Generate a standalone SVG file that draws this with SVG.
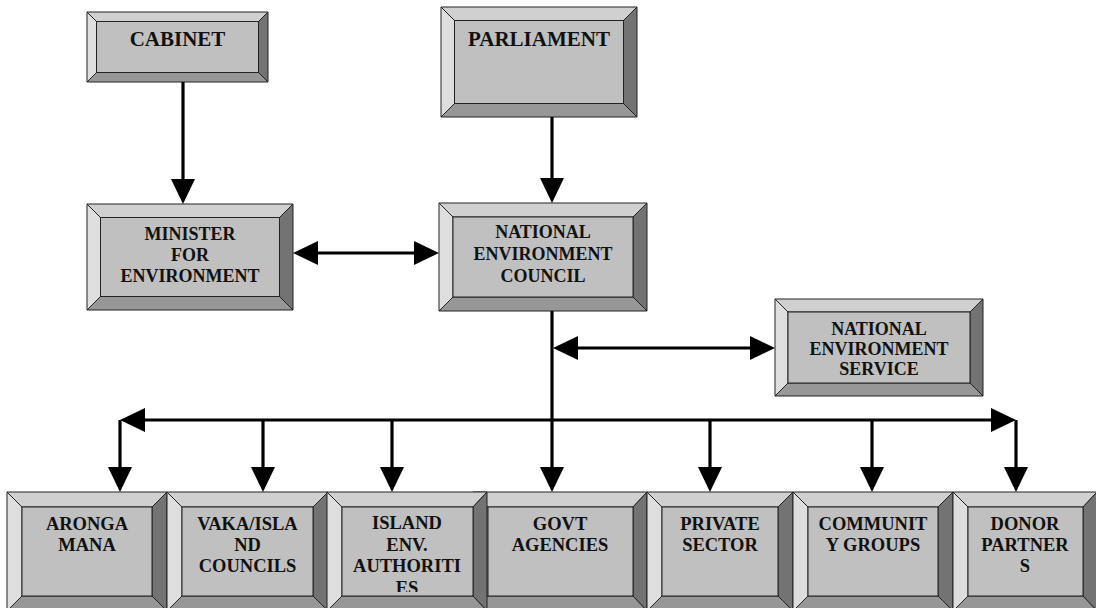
<svg xmlns="http://www.w3.org/2000/svg" width="1096" height="608" viewBox="0 0 1096 608">
<style>
.t{fill:#d0d0d0;stroke:#222;stroke-width:1}
.l{fill:#dedede;stroke:#222;stroke-width:1}
.r{fill:#737373;stroke:#222;stroke-width:1}
.b{fill:#979797;stroke:#222;stroke-width:1}
.f{fill:#c0c0c0;stroke:#222;stroke-width:1}
text{font-family:"Liberation Serif","Times New Roman",serif;font-weight:bold;fill:#111;text-anchor:middle}
.big{font-size:21px}
.mid{font-size:18px}
.sm{font-size:18.5px}
.c{fill:none;stroke:#000;stroke-width:3.2}
</style>
<defs>
<marker id="ah" viewBox="0 0 25 24" refX="4" refY="12" markerWidth="25" markerHeight="24" markerUnits="userSpaceOnUse" orient="auto-start-reverse">
<path d="M0,0 L25,12 L0,24 z" fill="#000"/>
</marker>
<clipPath id="clipIsland"><rect x="330" y="500" width="150" height="92"/></clipPath>
</defs>
<rect width="1096" height="608" fill="#fff"/>

<g id="cabinet">
<polygon class="t" points="87,12 268,12 258.5,21.5 96.5,21.5"/>
<polygon class="l" points="87,12 96.5,21.5 96.5,72.5 87,82"/>
<polygon class="r" points="268,12 268,82 258.5,72.5 258.5,21.5"/>
<polygon class="b" points="87,82 96.5,72.5 258.5,72.5 268,82"/>
<rect class="f" x="96.5" y="21.5" width="162" height="51"/>
<text class="big" x="177.5" y="46">CABINET</text>
</g>

<g id="parliament">
<polygon class="t" points="441,7 637,7 623.5,20.5 454.5,20.5"/>
<polygon class="l" points="441,7 454.5,20.5 454.5,103.5 441,117"/>
<polygon class="r" points="637,7 637,117 623.5,103.5 623.5,20.5"/>
<polygon class="b" points="441,117 454.5,103.5 623.5,103.5 637,117"/>
<rect class="f" x="454.5" y="20.5" width="169" height="83"/>
<text class="big" x="539" y="46">PARLIAMENT</text>
</g>

<g id="minister">
<polygon class="t" points="87,204 293,204 279.5,217.5 100.5,217.5"/>
<polygon class="l" points="87,204 100.5,217.5 100.5,296.5 87,310"/>
<polygon class="r" points="293,204 293,310 279.5,296.5 279.5,217.5"/>
<polygon class="b" points="87,310 100.5,296.5 279.5,296.5 293,310"/>
<rect class="f" x="100.5" y="217.5" width="179" height="79"/>
<text class="mid" x="190" y="240">MINISTER</text>
<text class="mid" x="190" y="261">FOR</text>
<text class="mid" x="190" y="282">ENVIRONMENT</text>
</g>

<g id="nec">
<polygon class="t" points="439,203 647,203 633,217 453,217"/>
<polygon class="l" points="439,203 453,217 453,297 439,311"/>
<polygon class="r" points="647,203 647,311 633,297 633,217"/>
<polygon class="b" points="439,311 453,297 633,297 647,311"/>
<rect class="f" x="453" y="217" width="180" height="80"/>
<text class="mid" x="543" y="238">NATIONAL</text>
<text class="mid" x="543" y="260">ENVIRONMENT</text>
<text class="mid" x="543" y="282">COUNCIL</text>
</g>

<g id="nes">
<polygon class="t" points="775,299 983,299 970,312 788,312"/>
<polygon class="l" points="775,299 788,312 788,383 775,396"/>
<polygon class="r" points="983,299 983,396 970,383 970,312"/>
<polygon class="b" points="775,396 788,383 970,383 983,396"/>
<rect class="f" x="788" y="312" width="182" height="71"/>
<text class="mid" x="879" y="335">NATIONAL</text>
<text class="mid" x="879" y="355">ENVIRONMENT</text>
<text class="mid" x="879" y="375">SERVICE</text>
</g>

<g id="aronga">
<polygon class="t" points="7,492 167,492 152,507 22,507"/>
<polygon class="l" points="7,492 22,507 22,596 7,611"/>
<polygon class="r" points="167,492 167,611 152,596 152,507"/>
<polygon class="b" points="7,611 22,596 152,596 167,611"/>
<rect class="f" x="22" y="507" width="130" height="89"/>
<text class="sm" x="87" y="530">ARONGA</text>
<text class="sm" x="87" y="551">MANA</text>
</g>

<g id="vaka">
<polygon class="t" points="167,492 328,492 313,507 182,507"/>
<polygon class="l" points="167,492 182,507 182,596 167,611"/>
<polygon class="r" points="328,492 328,611 313,596 313,507"/>
<polygon class="b" points="167,611 182,596 313,596 328,611"/>
<rect class="f" x="182" y="507" width="131" height="89"/>
<text class="sm" x="247.5" y="530">VAKA/ISLA</text>
<text class="sm" x="247.5" y="551">ND</text>
<text class="sm" x="247.5" y="572">COUNCILS</text>
</g>

<g id="govt">
<polygon class="t" points="473,492 647,492 633,507 488,507"/>
<polygon class="l" points="473,492 488,507 488,596 473,611"/>
<polygon class="r" points="647,492 647,611 633,596 633,507"/>
<polygon class="b" points="473,611 488,596 633,596 647,611"/>
<rect class="f" x="488" y="507" width="145" height="89"/>
<text class="sm" x="560" y="530">GOVT</text>
<text class="sm" x="560" y="551">AGENCIES</text>
</g>

<g id="island">
<polygon class="t" points="327,492 487,492 473,507 342,507"/>
<polygon class="l" points="327,492 342,507 342,596 327,611"/>
<polygon class="r" points="487,492 487,611 473,596 473,507"/>
<polygon class="b" points="327,611 342,596 473,596 487,611"/>
<rect class="f" x="342" y="507" width="131" height="89"/>
<g clip-path="url(#clipIsland)">
<text class="sm" x="407" y="529">ISLAND</text>
<text class="sm" x="407" y="551">ENV.</text>
<text class="sm" x="407" y="572">AUTHORITI</text>
<text class="sm" x="407" y="594">ES</text>
</g>
</g>

<g id="private">
<polygon class="t" points="647,492 793,492 778,507 662,507"/>
<polygon class="l" points="647,492 662,507 662,596 647,611"/>
<polygon class="r" points="793,492 793,611 778,596 778,507"/>
<polygon class="b" points="647,611 662,596 778,596 793,611"/>
<rect class="f" x="662" y="507" width="116" height="89"/>
<text class="sm" x="720" y="530">PRIVATE</text>
<text class="sm" x="720" y="551">SECTOR</text>
</g>

<g id="community">
<polygon class="t" points="793,492 953,492 938,507 808,507"/>
<polygon class="l" points="793,492 808,507 808,596 793,611"/>
<polygon class="r" points="953,492 953,611 938,596 938,507"/>
<polygon class="b" points="793,611 808,596 938,596 953,611"/>
<rect class="f" x="808" y="507" width="130" height="89"/>
<text class="sm" x="873" y="530">COMMUNIT</text>
<text class="sm" x="873" y="551">Y GROUPS</text>
</g>

<g id="donor">
<polygon class="t" points="953,492 1097,492 1083,507 968,507"/>
<polygon class="l" points="953,492 968,507 968,596 953,611"/>
<polygon class="r" points="1097,492 1097,611 1083,596 1083,507"/>
<polygon class="b" points="953,611 968,596 1083,596 1097,611"/>
<rect class="f" x="968" y="507" width="115" height="89"/>
<text class="sm" x="1025" y="530">DONOR</text>
<text class="sm" x="1025" y="551">PARTNER</text>
<text class="sm" x="1025" y="572">S</text>
</g>

<g id="connectors">
<path class="c" d="M183,82 V183" marker-end="url(#ah)"/>
<path class="c" d="M552,117 V182" marker-end="url(#ah)"/>
<path class="c" d="M314,253 H418" marker-start="url(#ah)" marker-end="url(#ah)"/>
<path class="c" d="M552,311 V471" marker-end="url(#ah)"/>
<path class="c" d="M574,348 H754" marker-start="url(#ah)" marker-end="url(#ah)"/>
<path class="c" d="M141,420 H995" marker-start="url(#ah)" marker-end="url(#ah)"/>
<path class="c" d="M120,420 V471" marker-end="url(#ah)"/>
<path class="c" d="M263,420 V471" marker-end="url(#ah)"/>
<path class="c" d="M392,420 V471" marker-end="url(#ah)"/>
<path class="c" d="M710,420 V471" marker-end="url(#ah)"/>
<path class="c" d="M872,420 V471" marker-end="url(#ah)"/>
<path class="c" d="M1016,420 V471" marker-end="url(#ah)"/>
</g>
</svg>
